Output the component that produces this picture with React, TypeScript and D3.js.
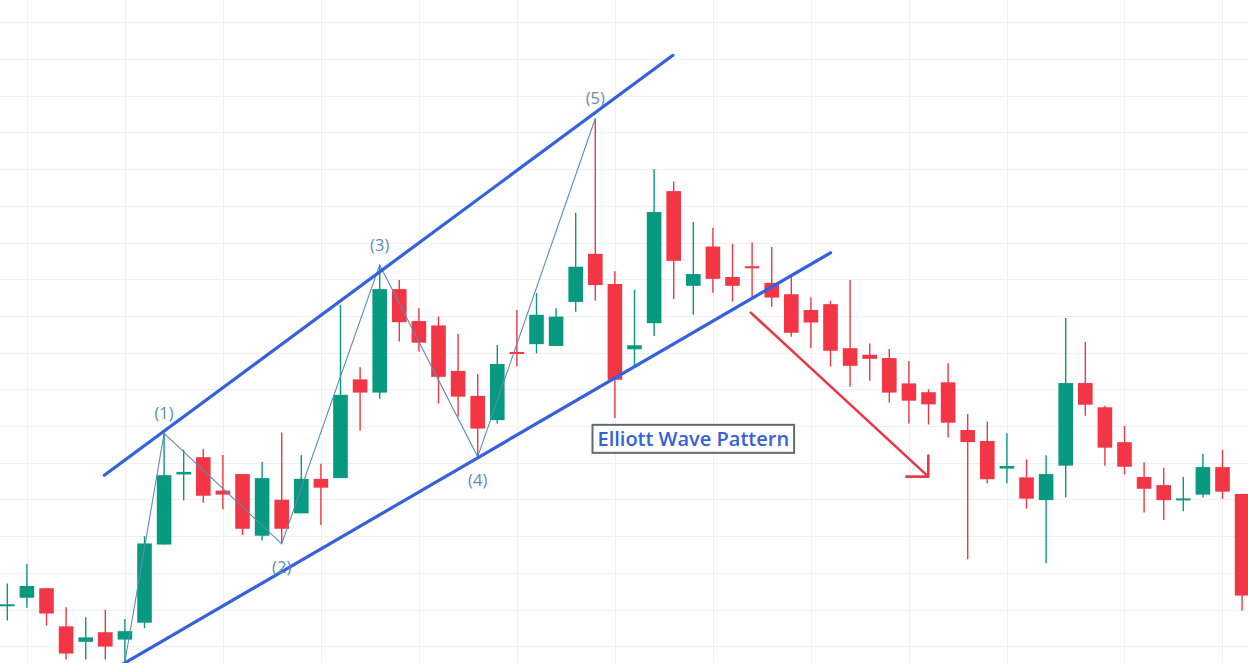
import React, { useRef, useEffect } from "react";
import * as d3 from "d3";

// OHLC per candle (index = position on the time axis)
const opens = [
  111.1, 113.2, 115.8, 105.4, 101.2, 103.8, 101.8, 106.4, 127.7, 146.8,
  151.5, 142.4, 146.9, 130.1, 139.9, 136.2, 145.6, 145.8, 172.7, 169.1,
  197.3, 188.6, 187.4, 175.0, 168.2, 161.6, 180.1, 182.3, 181.8, 193.8,
  206.9, 198.7, 180.9, 188.0, 224.0, 198.2, 208.9, 200.6, 203.3, 199.0,
  195.9, 191.6, 193.2, 181.2, 179.4, 178.5, 171.6, 169.2, 171.9, 158.9,
  155.9, 148.4, 146.0, 139.8, 149.2, 171.7, 165.1, 155.6, 146.1, 143.9,
  139.9, 141.3, 148.8, 141.5,
];
const highs = [
  117.1, 122.4, 115.8, 110.6, 107.9, 109.9, 107.4, 130.0, 158.0, 153.5,
  153.7, 152.1, 146.9, 150.2, 158.2, 152.1, 149.7, 193.0, 176.0, 203.9,
  199.8, 192.1, 189.8, 185.1, 174.2, 182.1, 191.6, 196.2, 192.1, 218.1,
  243.8, 202.2, 197.1, 230.0, 226.6, 215.6, 214.0, 209.6, 210.0, 208.8,
  200.9, 195.1, 194.1, 199.8, 182.5, 181.0, 177.7, 170.0, 177.1, 163.3,
  161.2, 158.0, 150.9, 152.0, 189.4, 182.9, 165.5, 160.0, 150.1, 148.6,
  146.1, 152.4, 153.5, 141.5,
];
const lows = [
  107.0, 110.5, 105.6, 96.4, 96.4, 96.4, 95.7, 104.9, 127.7, 139.7,
  139.1, 137.3, 130.3, 128.8, 127.9, 136.2, 133.0, 145.8, 158.7, 167.4,
  183.0, 180.3, 166.1, 162.5, 151.6, 160.7, 176.2, 179.8, 181.8, 191.1,
  194.1, 162.2, 175.9, 184.5, 194.6, 190.3, 196.3, 193.9, 194.7, 192.5,
  184.3, 181.2, 176.2, 170.7, 172.3, 166.4, 160.7, 160.4, 156.9, 123.7,
  144.4, 144.4, 137.5, 122.6, 140.5, 162.8, 149.2, 146.8, 136.4, 134.4,
  136.8, 140.5, 140.1, 109.7,
];
const closes = [
  111.2, 116.4, 108.9, 98.0, 102.4, 99.9, 104.1, 128.0, 146.6, 147.5,
  141.0, 141.3, 132.0, 145.8, 132.0, 145.6, 143.2, 168.5, 169.1, 197.3,
  188.3, 182.7, 173.4, 168.0, 159.3, 176.9, 179.7, 190.3, 189.8, 203.4,
  198.4, 172.6, 182.0, 218.3, 205.0, 201.4, 200.1, 198.2, 203.2, 195.0,
  185.4, 188.2, 180.5, 176.4, 178.3, 169.1, 166.9, 165.9, 160.9, 155.6,
  145.5, 149.1, 140.2, 146.9, 171.7, 165.8, 154.1, 148.9, 142.9, 139.8,
  140.1, 148.8, 142.1, 113.8,
];

// candle indices where the time grid has a vertical line
const timeGridIdx = [1, 6, 11, 16, 21, 26, 31, 36, 41, 46, 51, 57, 62];
const priceGrid = d3.range(90, 281, 10);

// Elliott wave pivots: [candle index, "high" | "low"]
const wavePivots: [number, "high" | "low"][] = [
  [6, "low"],
  [8, "high"],
  [14, "low"],
  [19, "high"],
  [24, "low"],
  [30, "high"],
];
const waveLabels = ["", "(1)", "(2)", "(3)", "(4)", "(5)"];

// channel lines, in [index, price]
const upperChannel: [number, number][] = [
  [4.95, 146.6],
  [33.96, 261.0],
];
const lowerChannel: [number, number][] = [
  [5.5, 93.9],
  [42.0, 207.2],
];
const breakdownArrow: [number, number][] = [
  [37.93, 190.9],
  [46.99, 146.2],
];
const patternTitle = "Elliott Wave Pattern";
const titleAnchor: [number, number] = [35.0, 156.5];

const WIDTH = 1248;
const HEIGHT = 663;
const UP = "#089981";
const DOWN = "#f23645";
const CHANNEL = "#3461de";
const WAVE = "#5f8bb3";

function drawChart(svgEl: SVGSVGElement) {
  const svg = d3.select(svgEl);
  svg.selectAll("*").remove();

  const x = d3.scaleLinear().domain([0, 63]).range([7.3, 1242.1]);
  const y = d3.scaleLinear().domain([100, 270]).range([646.2, 22.3]);

  svg.append("rect").attr("width", WIDTH).attr("height", HEIGHT).attr("fill", "#fff");

  // grid
  const grid = svg.append("g").attr("stroke", "#eef0f4").attr("stroke-width", 1);
  grid
    .selectAll("line.h")
    .data(priceGrid)
    .enter()
    .append("line")
    .attr("x1", 0)
    .attr("x2", WIDTH)
    .attr("y1", (d) => Math.round(y(d)) + 0.5)
    .attr("y2", (d) => Math.round(y(d)) + 0.5);
  grid
    .selectAll("line.v")
    .data(timeGridIdx)
    .enter()
    .append("line")
    .attr("y1", 0)
    .attr("y2", HEIGHT)
    .attr("x1", (d) => Math.round(x(d)) + 0.5)
    .attr("x2", (d) => Math.round(x(d)) + 0.5);

  // candles
  const candles = opens.map((o, i) => ({
    i,
    o,
    h: highs[i],
    l: lows[i],
    c: closes[i],
  }));
  const bodyW = 14.6;
  const g = svg
    .append("g")
    .selectAll("g")
    .data(candles)
    .enter()
    .append("g")
    .attr("fill", (d) => (d.c >= d.o ? UP : DOWN))
    .attr("stroke", (d) => (d.c >= d.o ? UP : DOWN));
  g.append("line")
    .attr("x1", (d) => x(d.i))
    .attr("x2", (d) => x(d.i))
    .attr("y1", (d) => y(d.h))
    .attr("y2", (d) => y(d.l))
    .attr("stroke-width", 1.4);
  g.append("rect")
    .attr("x", (d) => x(d.i) - bodyW / 2)
    .attr("width", bodyW)
    .attr("y", (d) => {
      const top = y(Math.max(d.o, d.c));
      const hgt = Math.abs(y(d.o) - y(d.c));
      return hgt < 2 ? (top + y(Math.min(d.o, d.c))) / 2 - 1 : top;
    })
    .attr("height", (d) => Math.max(2, Math.abs(y(d.o) - y(d.c))))
    .attr("stroke", "none");

  // wave zigzag
  const pts: [number, number][] = wavePivots.map(([i, k]) => [
    x(i),
    y(k === "high" ? highs[i] : lows[i]),
  ]);
  svg
    .append("path")
    .attr("d", d3.line()(pts))
    .attr("fill", "none")
    .attr("stroke", WAVE)
    .attr("stroke-width", 1.1);

  // channel
  const line = d3
    .line<[number, number]>()
    .x((d) => x(d[0]))
    .y((d) => y(d[1]));
  [upperChannel, lowerChannel].forEach((seg) => {
    svg
      .append("path")
      .attr("d", line(seg))
      .attr("fill", "none")
      .attr("stroke", CHANNEL)
      .attr("stroke-width", 3.2)
      .attr("stroke-linecap", "round");
  });

  // wave labels
  svg
    .append("g")
    .selectAll("text")
    .data(wavePivots.slice(1))
    .enter()
    .append("text")
    .attr("x", (d) => x(d[0]))
    .attr("y", (d) => {
      const py = y(d[1] === "high" ? highs[d[0]] : lows[d[0]]);
      return d[1] === "high" ? py - 14 : py + 29;
    })
    .attr("text-anchor", "middle")
    .attr("font-family", "'Open Sans', sans-serif")
    .attr("font-size", 16.5)
    .attr("fill", WAVE)
    .text((_, k) => waveLabels[k + 1]);

  // breakdown arrow
  const [a0, a1] = breakdownArrow.map((d) => [x(d[0]), y(d[1])]);
  svg
    .append("path")
    .attr(
      "d",
      `M${a0[0]},${a0[1]}L${a1[0]},${a1[1]}M${a1[0]},${a1[1] - 21}L${a1[0]},${a1[1]}L${a1[0] - 22},${a1[1]}`
    )
    .attr("fill", "none")
    .attr("stroke", "#e8394b")
    .attr("stroke-width", 2.6)
    .attr("stroke-linecap", "round")
    .attr("stroke-linejoin", "round");

  // title box
  const tg = svg.append("g");
  const box = tg.append("rect");
  const txt = tg
    .append("text")
    .attr("x", x(titleAnchor[0]))
    .attr("y", y(titleAnchor[1]) + 7)
    .attr("text-anchor", "middle")
    .attr("font-family", "'Open Sans', sans-serif")
    .attr("font-weight", 600)
    .attr("font-size", 20)
    .attr("fill", "#3761d6")
    .text(patternTitle);
  const bb = (txt.node() as SVGTextElement).getBBox();
  box
    .attr("x", bb.x - 5)
    .attr("y", y(titleAnchor[1]) - 14)
    .attr("width", bb.width + 10)
    .attr("height", 28)
    .attr("fill", "#fff")
    .attr("stroke", "#5f6b73")
    .attr("stroke-width", 2);
}

const App: React.FunctionComponent = function () {
  const ref = useRef<SVGSVGElement>(null);
  useEffect(() => {
    if (ref.current == null) return;
    drawChart(ref.current);
  }, []);
  return (
    <svg
      ref={ref}
      width={WIDTH}
      height={HEIGHT}
      style={{ position: "absolute", left: 0, top: 0, display: "block" }}
    />
  );
};

export default App;
